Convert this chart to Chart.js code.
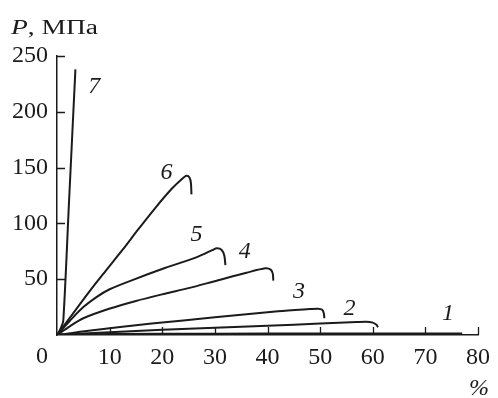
<!DOCTYPE html>
<html>
<head>
<meta charset="utf-8">
<script src="https://cdn.jsdelivr.net/npm/chart.js@4/dist/chart.umd.min.js"></script>
<style>
  html, body { margin: 0; padding: 0; background: #fff; }
  #wrap { width: 498px; height: 398px; }
</style>
</head>
<body>
<div id="wrap"><canvas id="c" width="498" height="398"></canvas></div>
<script>
// Strain (%) and stress P (MPa) for the seven stress-strain curves
const eps1 = [0, 20, 40, 60, 77];
const p1   = [0, 0.5, 0.8, 0.9, 0.9];

const eps2 = [0, 10, 20, 30, 40, 50, 57, 58.7, 60.0, 60.7, 61.0];
const p2   = [0, 2.5, 4.6, 6.5, 8.3, 10.2, 11.6, 11.9, 11.1, 9.2, 7.0];

const eps3 = [0, 6, 18, 30, 42, 48, 49.6, 50.4, 50.7, 50.8];
const p3   = [0, 3.8, 10.2, 15.8, 21.2, 23.2, 23.6, 22.6, 19.5, 15.0];

const eps4 = [0, 2.5, 5, 9.9, 15, 20.5, 25, 29.8, 36, 39.6, 40.6, 41.0, 41.1];
const p4   = [0, 8, 15, 23.5, 30.5, 37, 42, 48, 55.8, 59.8, 58.6, 55, 48.7];

const eps5 = [0, 2.5, 5, 7.5, 10, 14.2, 20.5, 26.7, 29.5, 30.4, 31.3, 31.8, 32.0];
const p5   = [0, 13, 25, 34, 41, 49, 60, 70, 76, 77.7, 76.2, 71, 62.7];

const eps6 = [0, 3, 6, 9, 12.4, 15.5, 18.7, 21.8, 23.9, 24.6, 25.2, 25.45, 25.55];
const p6   = [0, 19, 38, 56, 76, 95, 114, 131, 140.5, 142.7, 141, 136, 126];

const eps7 = [0, 0.4, 0.8, 1.2, 2.3, 3.5];
const p7   = [0, 3, 7, 13, 121, 238];

// Curve numbers and where they sit (strain, stress)
const curveNames = ['1', '2', '3', '4', '5', '6', '7'];
const nameEps = [74.3, 55.6, 46.0, 35.7, 26.5, 20.8, 7.1];
const nameP   = [19.4, 23.9, 38.8, 74.6, 89.6, 145.4, 222.5];

// Axis ticks
const xTickValues = [0, 10, 20, 30, 40, 50, 60, 70, 80];
const yTickValues = [0, 50, 100, 150, 200, 250];

const SERIF = '"Liberation Serif", "Times New Roman", serif';
const INK = '#1b1b1b';

function pts(xs, ys) { return xs.map((x, i) => ({ x: x, y: ys[i] })); }

const curves = [
  { data: pts(eps1, p1), w: 3.2 },
  { data: pts(eps2, p2), w: 2 },
  { data: pts(eps3, p3), w: 2 },
  { data: pts(eps4, p4), w: 2 },
  { data: pts(eps5, p5), w: 2 },
  { data: pts(eps6, p6), w: 2 },
  { data: pts(eps7, p7), w: 2 }
];

// Inward tick marks, axis captions, curve numbers and the shared origin "0"
const decorations = {
  id: 'decorations',
  afterDraw(chart) {
    const ctx = chart.ctx;
    const xs = chart.scales.x, ys = chart.scales.y;
    const left = chart.chartArea.left, bottom = chart.chartArea.bottom;
    ctx.save();
    ctx.strokeStyle = INK;
    ctx.lineWidth = 1.3;
    ctx.beginPath();
    xTickValues.forEach(v => {
      if (v === 0) return;
      const px = Math.round(xs.getPixelForValue(v)) + 0.5;
      ctx.moveTo(px, bottom);
      ctx.lineTo(px, bottom - 8);
    });
    yTickValues.forEach(v => {
      if (v === 0) return;
      const py = Math.round(ys.getPixelForValue(v)) + 0.5;
      ctx.moveTo(left, py);
      ctx.lineTo(left + 8, py);
    });
    ctx.stroke();

    ctx.fillStyle = INK;

    // vertical axis caption: italic P, then units, set a little wide
    ctx.textBaseline = 'alphabetic';
    ctx.textAlign = 'left';
    const capFont = 'italic 20px ' + SERIF, unitFont = '20px ' + SERIF;
    ctx.font = capFont;
    const wP = ctx.measureText('P').width;
    ctx.font = unitFont;
    const wU = ctx.measureText(', МПа').width;
    const sx = 87 / (wP + wU);
    ctx.save();
    ctx.translate(11, 34);
    ctx.scale(sx, 1);
    ctx.font = capFont;
    ctx.fillText('P', 0, 0);
    ctx.font = unitFont;
    ctx.fillText(', МПа', wP, 0);
    ctx.restore();

    // horizontal axis unit
    ctx.font = 'italic 24px ' + SERIF;
    ctx.textAlign = 'center';
    ctx.textBaseline = 'middle';
    ctx.fillText('%', xs.getPixelForValue(80) + 1, 389);

    // shared origin label
    ctx.font = '24px ' + SERIF;
    ctx.fillText('0', xs.getPixelForValue(0) - 15, 357);

    // curve numbers
    ctx.font = 'italic 24px ' + SERIF;
    curveNames.forEach((t, i) => {
      ctx.fillText(t, xs.getPixelForValue(nameEps[i]), ys.getPixelForValue(nameP[i]));
    });
    ctx.restore();
  }
};

function build() {
  new Chart(document.getElementById('c'), {
    type: 'line',
    data: {
      datasets: curves.map(c => ({
        data: c.data,
        borderColor: INK,
        borderWidth: c.w,
        pointRadius: 0,
        fill: false,
        tension: 0.3
      }))
    },
    options: {
      responsive: false,
      animation: false,
      devicePixelRatio: 1,
      layout: { padding: { left: 0, right: 12, top: 56, bottom: 0 } },
      plugins: { legend: { display: false }, tooltip: { enabled: false } },
      scales: {
        x: {
          type: 'linear',
          min: 0, max: 80,
          afterFit(scale) { scale.height = 63; },
          afterBuildTicks(scale) { scale.ticks = xTickValues.map(v => ({ value: v })); },
          grid: { display: false, drawTicks: false },
          border: { display: true, color: INK, width: 1.5 },
          ticks: {
            padding: 8,
            maxRotation: 0,
            autoSkip: false,
            color: INK,
            font: { family: SERIF, size: 24 },
            callback: v => (v === 0 ? '' : String(v))
          }
        },
        y: {
          type: 'linear',
          min: 0, max: 250,
          afterFit(scale) { scale.width = 57; },
          afterBuildTicks(scale) { scale.ticks = yTickValues.map(v => ({ value: v })); },
          grid: { display: false, drawTicks: false },
          border: { display: true, color: INK, width: 1.5 },
          ticks: {
            padding: 9,
            color: INK,
            font: { family: SERIF, size: 24 },
            callback: v => (v === 0 ? '' : String(v))
          }
        }
      }
    },
    plugins: [decorations]
  });
}

Promise.all([
  document.fonts.load('24px "Liberation Serif"'),
  document.fonts.load('italic 24px "Liberation Serif"')
]).catch(() => {}).then(build);
</script>
</body>
</html>
